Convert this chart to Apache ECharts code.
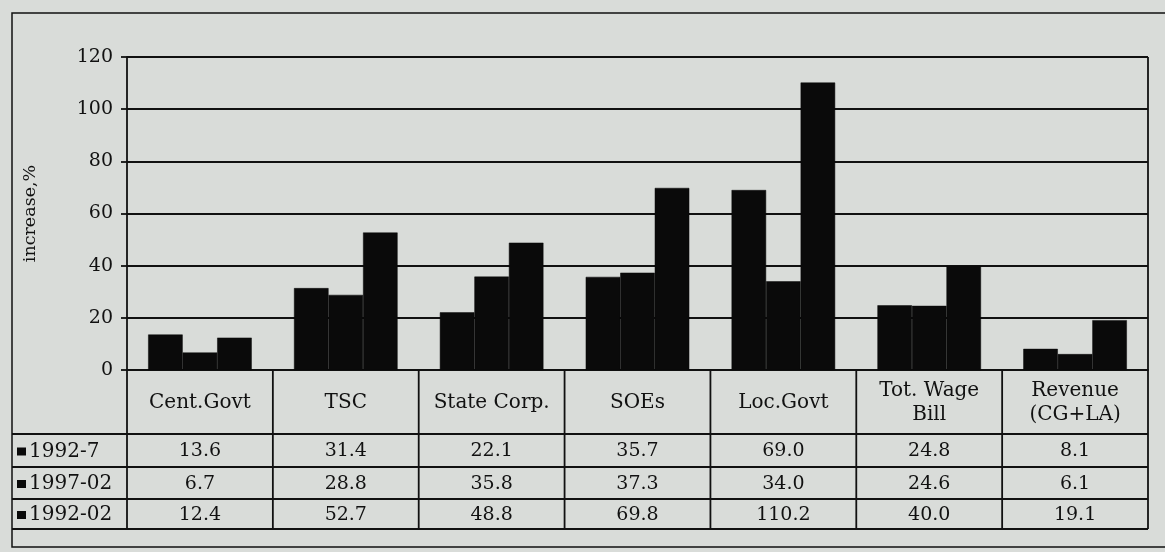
<!DOCTYPE html>
<html><head><meta charset="utf-8">
<script src="https://cdn.jsdelivr.net/npm/echarts@6/dist/echarts.min.js"></script>
<style>html,body{margin:0;padding:0;background:#d9dcd9;}#c{width:1165px;height:552px;}</style>
</head><body><div id="c"></div>
<script>
const categories = ['Cent.Govt','TSC','State Corp.','SOEs','Loc.Govt','Tot. Wage\nBill','Revenue\n(CG+LA)'];
const seriesNames = ['1992-7','1997-02','1992-02'];
const v1992_7 = [13.6,31.4,22.1,35.7,69.0,24.8,8.1];
const v1997_02 = [6.7,28.8,35.8,37.3,34.0,24.6,6.1];
const v1992_02 = [12.4,52.7,48.8,69.8,110.2,40.0,19.1];
const seriesValues = [v1992_7, v1997_02, v1992_02];
const yMin = 0, yMax = 120, yStep = 20;
const yName = 'increase,%';

const FONT = '"DejaVu Serif","Liberation Serif",serif';
const INK = '#111';
const BAR = '#0a0a0a';
const chart = echarts.init(document.getElementById('c'), null, {renderer:'canvas'});
const gridL = 127, gridR = 17, gridT = 57, gridB = 182;
chart.setOption({
  backgroundColor:'#d9dcd9',
  animation:false,
  grid:{left:gridL,right:gridR,top:gridT,bottom:gridB,show:false},
  xAxis:{type:'category',data:categories,
    axisLine:{lineStyle:{color:INK,width:1.8}},axisTick:{show:false},
    axisLabel:{color:INK,fontFamily:FONT,fontSize:20,margin:33,verticalAlign:'middle',lineHeight:24,interval:0}},
  yAxis:{type:'value',min:yMin,max:yMax,interval:yStep,
    name:yName,nameLocation:'middle',nameGap:88,nameRotate:90,
    nameTextStyle:{color:INK,fontFamily:FONT,fontSize:17.5},
    axisLine:{show:true,lineStyle:{color:INK,width:1.8}},
    axisTick:{show:true,length:6,lineStyle:{color:INK,width:1.8}},
    axisLabel:{color:INK,fontFamily:FONT,fontSize:19,margin:14},
    splitLine:{lineStyle:{color:INK,width:1.8}}},
  series: seriesNames.map((n,i)=>({name:n,type:'bar',data:seriesValues[i],
    barGap:'0%',barCategoryGap:'29%',itemStyle:{color:BAR,borderColor:BAR,borderWidth:0.5}}))
});

function drawTable(){
  const xs = categories.map((c)=>chart.convertToPixel({xAxisIndex:0}, c));
  const band = xs.length>1 ? xs[1]-xs[0] : 100;
  const y0 = chart.convertToPixel({yAxisIndex:0}, yMin);
  const left0 = xs[0]-band/2, right0 = xs[xs.length-1]+band/2;
  const frameL = 12, frameT = 13, frameB = 547;
  const rowTops = [434, 467, 499];
  const rowH = [33, 32, 30];
  const tableBottom = 529;
  const els = [];
  const ls = {stroke:INK,lineWidth:1.8};
  els.push({type:'rect',shape:{x:frameL,y:frameT,width:1165,height:frameB-frameT},style:{fill:null,stroke:INK,lineWidth:1.5},silent:true});
  for(let k=0;k<=categories.length;k++){
    const x = left0 + k*band;
    els.push({type:'line',shape:{x1:x,y1:(k===categories.length? gridT : y0),x2:x,y2:tableBottom},style:ls});
  }
  rowTops.forEach(t=>els.push({type:'line',shape:{x1:frameL,y1:t,x2:right0,y2:t},style:ls}));
  els.push({type:'line',shape:{x1:frameL,y1:tableBottom,x2:right0,y2:tableBottom},style:ls});
  seriesNames.forEach((n,r)=>{
    const cy = rowTops[r] + rowH[r]/2 + 1;
    els.push({type:'rect',shape:{x:17,y:cy-4,width:9,height:8},style:{fill:BAR}});
    els.push({type:'text',x:29,y:cy,style:{text:n,fill:INK,font:'20px '+FONT,align:'left',verticalAlign:'middle'}});
    seriesValues[r].forEach((v,i)=>{
      els.push({type:'text',x:xs[i],y:cy,style:{text:v.toFixed(1),fill:INK,font:'19px '+FONT,align:'center',verticalAlign:'middle'}});
    });
  });
  chart.setOption({graphic:{elements:els}});
}
drawTable();
</script></body></html>
